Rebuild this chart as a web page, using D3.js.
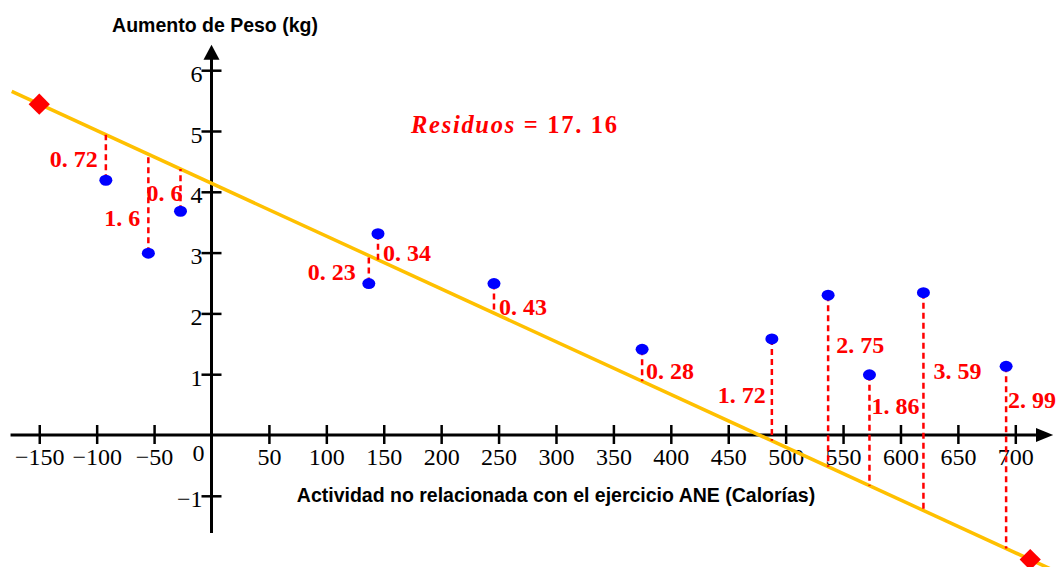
<!DOCTYPE html>
<html>
<head>
<meta charset="utf-8">
<script src="https://cdn.jsdelivr.net/npm/d3@7"></script>
<style>
  body { margin: 0; background: #fff; }
  svg { display: block; }
</style>
</head>
<body>
<div id="chart"></div>
<script>
// Datos
const calorias = [-92, -55, -27, 137, 145, 246, 375, 488, 537, 573, 620, 692];
const pesos = [4.19, 2.99, 3.68, 2.49, 3.31, 2.49, 1.41, 1.58, 2.30, 0.99, 2.34, 1.13];
const residuosTexto = ['0. 72', '1. 6', '0. 6', '0. 23', '0. 34', '0. 43', '0. 28', '1. 72', '2. 75', '1. 86', '3. 59', '2. 99'];
const sumaResiduos = '17. 16';

// Recta propuesta y sus dos extremos (rombos)
const rectaIntercepto = 4.14;
const rectaPendiente = -0.00868;
const extremosRecta = [-150, 713];

const xTicks = [-150, -100, -50, 50, 100, 150, 200, 250, 300, 350, 400, 450, 500, 550, 600, 650, 700];
const yTicks = [-1, 1, 2, 3, 4, 5, 6];

// Colocación de las etiquetas: desplazamiento en px respecto a la línea y altura en kg
const posEtiquetas = [
  [-8, 4.54], [-8, 3.57], [2, 3.98], [-13, 2.69], [5, 3.0], [5, 2.11],
  [4, 1.06], [-6, 0.67], [8, 1.48], [2, 0.48], [10, 1.06], [2, 0.58]
];

const W = 1060, H = 567;
const rojo = '#ff0000', azul = '#0000ff', naranja = '#ffc000';
const serif = '"Liberation Serif", "Times New Roman", serif';
const sans = '"Liberation Sans", Arial, sans-serif';

const svg = d3.select('#chart').append('svg')
  .attr('width', W)
  .attr('height', H);

const x = d3.scaleLinear().domain([0, 700]).range([211.5, 1015.3]);
const y = d3.scaleLinear().domain([0, 6]).range([435, 70.2]);
const recta = v => rectaIntercepto + rectaPendiente * v;

// Eje X
const ejeX = svg.append('g')
  .attr('transform', `translate(0,${y(0)})`)
  .call(d3.axisBottom(x).tickValues(xTicks).tickSize(9)
    .tickFormat(d => d < 0 ? '\u2212' + Math.abs(d) : d));
ejeX.select('.domain').remove();
ejeX.selectAll('.tick line').attr('y1', -10).attr('stroke', '#000').attr('stroke-width', 2.5);
ejeX.selectAll('.tick text')
  .attr('y', 30).attr('dy', null)
  .attr('font-family', serif).attr('font-size', 24).attr('fill', '#000');

// Eje Y
const ejeY = svg.append('g')
  .attr('transform', `translate(${x(0)},0)`)
  .call(d3.axisLeft(y).tickValues(yTicks).tickSize(10));
ejeY.select('.domain').remove();
ejeY.selectAll('.tick line').attr('x1', 10).attr('stroke', '#000').attr('stroke-width', 2.5);
ejeY.selectAll('.tick text')
  .attr('x', -9).attr('dy', null).attr('y', 11)
  .text(d => d < 0 ? '\u2212' + Math.abs(d) : d)
  .attr('font-family', serif).attr('font-size', 24).attr('fill', '#000');

// Líneas de los ejes con flechas
svg.append('line')
  .attr('x1', x(-175)).attr('x2', x(718))
  .attr('y1', y(0)).attr('y2', y(0))
  .attr('stroke', '#000').attr('stroke-width', 3);
svg.append('path')
  .attr('d', `M${x(718)},${y(0) - 7}L${x(733)},${y(0)}L${x(718)},${y(0) + 7}Z`)
  .attr('fill', '#000');
svg.append('line')
  .attr('x1', x(0)).attr('x2', x(0))
  .attr('y1', y(-1.61)).attr('y2', y(6.2))
  .attr('stroke', '#000').attr('stroke-width', 3);
svg.append('path')
  .attr('d', `M${x(0) - 8},${y(6.17)}L${x(0)},${y(6.42)}L${x(0) + 8},${y(6.17)}Z`)
  .attr('fill', '#000');

svg.append('text')
  .attr('x', x(0) - 13).attr('y', 461)
  .attr('text-anchor', 'middle')
  .attr('font-family', serif).attr('font-size', 24)
  .text('0');

// Títulos de los ejes
svg.append('text')
  .attr('x', 215).attr('y', 32)
  .attr('text-anchor', 'middle')
  .attr('font-family', sans).attr('font-weight', 'bold').attr('font-size', 19.5)
  .text('Aumento de Peso (kg)');
svg.append('text')
  .attr('x', 556).attr('y', 502)
  .attr('text-anchor', 'middle')
  .attr('font-family', sans).attr('font-weight', 'bold').attr('font-size', 19.5)
  .text('Actividad no relacionada con el ejercicio ANE (Calorías)');

// Recta
svg.append('line')
  .attr('x1', x(-174)).attr('y1', y(recta(-174)))
  .attr('x2', x(745)).attr('y2', y(recta(745)))
  .attr('stroke', naranja).attr('stroke-width', 3.5);

// Residuos (líneas discontinuas)
svg.append('g').selectAll('line')
  .data(calorias)
  .join('line')
  .attr('x1', d => x(d)).attr('x2', d => x(d))
  .attr('y1', (d, i) => y(pesos[i]))
  .attr('y2', d => y(recta(d)))
  .attr('stroke', rojo).attr('stroke-width', 2.5)
  .attr('stroke-dasharray', '6,4');

// Puntos
svg.append('g').selectAll('ellipse')
  .data(calorias)
  .join('ellipse')
  .attr('cx', d => x(d))
  .attr('cy', (d, i) => y(pesos[i]))
  .attr('rx', 6.5).attr('ry', 5.5)
  .attr('fill', azul);

// Rombos en los extremos
svg.append('g').selectAll('rect')
  .data(extremosRecta)
  .join('rect')
  .attr('x', -7.5).attr('y', -7.5)
  .attr('width', 15).attr('height', 15)
  .attr('transform', d => `translate(${x(d)},${y(recta(d))}) rotate(45)`)
  .attr('fill', rojo);

// Etiquetas de los residuos
svg.append('g').selectAll('text')
  .data(residuosTexto)
  .join('text')
  .attr('x', (d, i) => x(calorias[i]) + posEtiquetas[i][0])
  .attr('y', (d, i) => y(posEtiquetas[i][1]))
  .attr('dy', '0.35em')
  .attr('text-anchor', (d, i) => posEtiquetas[i][0] < 0 || i === 2 ? 'end' : 'start')
  .attr('font-family', serif).attr('font-weight', 'bold').attr('font-size', 24)
  .attr('fill', rojo)
  .text(d => d);

// Suma de residuos
const suma = svg.append('text')
  .attr('x', 411).attr('y', 133)
  .attr('textLength', 206).attr('lengthAdjust', 'spacing')
  .attr('font-family', serif).attr('font-weight', 'bold').attr('font-size', 24.5)
  .attr('fill', rojo);
suma.append('tspan').attr('font-style', 'italic').text('Residuos');
suma.append('tspan').text(' = ' + sumaResiduos);
</script>
</body>
</html>
